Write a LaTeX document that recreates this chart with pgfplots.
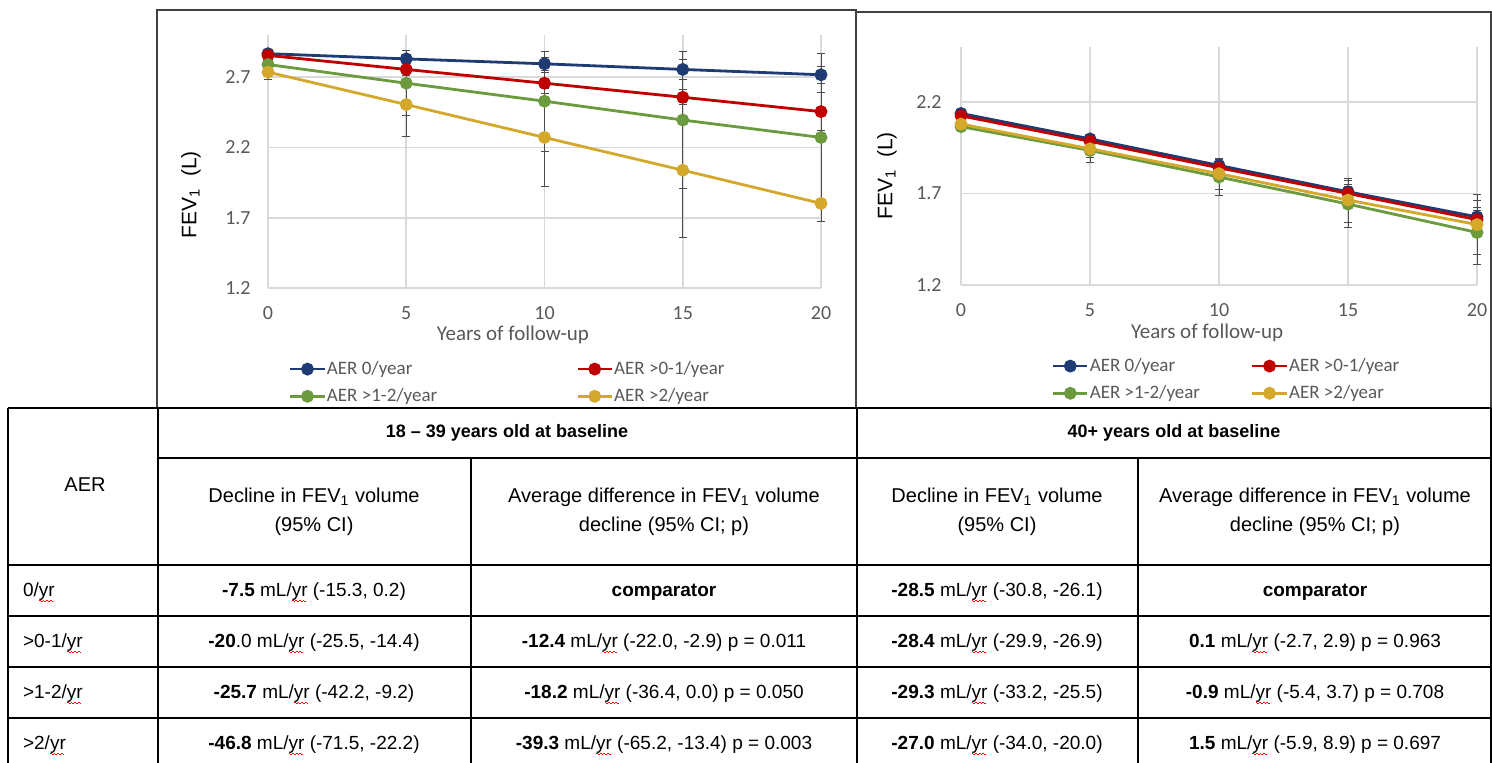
\documentclass[border=0pt]{standalone}
\usepackage{fontspec}
\setmainfont{Liberation Sans}
\newfontfamily\calfont{Carlito}
\usepackage{pgfplots}
\pgfplotsset{compat=1.18}
\definecolor{cBlue}{HTML}{1F3B73}
\definecolor{cRed}{HTML}{C00000}
\definecolor{cGreen}{HTML}{6B9A3F}
\definecolor{cGold}{HTML}{D4A82A}
\definecolor{gridg}{HTML}{D9D9D9}
\definecolor{tickg}{HTML}{595959}
\definecolor{boxg}{HTML}{404040}
\newcommand{\fs}[2]{\fontsize{#1}{#2}\selectfont}
\newcommand{\sqp}{\raisebox{-2.3pt}{\rule{0.9pt}{0.45pt}}\raisebox{-2.8pt}{\rule{0.9pt}{0.45pt}}}
\newcommand{\yr}{\makebox[0pt][l]{\textcolor{red}{\sqp\sqp\sqp\sqp}}yr}
\pgfplotsset{
  fev/.style={
    scale only axis, clip=false,
    xmin=0, xmax=20, xtick={0,5,10,15,20},
    axis x line*=bottom, axis y line*=left,
    axis line style={gridg, line width=0.8pt},
    grid=major, major grid style={gridg, line width=0.8pt},
    major tick length=0pt,
    /pgf/number format/assume math mode=true,
    ticklabel style={font=\calfont\fs{10}{12}, text=tickg, inner sep=0pt},
    xticklabel style={anchor=center, yshift=-12.5pt},
    yticklabel style={anchor=east, xshift=-8.5pt},
    yticklabel style={/pgf/number format/fixed, /pgf/number format/fixed zerofill, /pgf/number format/precision=1},
    xlabel={Years of follow-up},
    xlabel style={font=\calfont\fs{10.5}{12}, text=tickg, anchor=center},
    ylabel={FEV\textsubscript{1}\ \ (L)},
    ylabel style={font=\fs{10.5}{12}, anchor=center},
    legend columns=2, legend cell align=left,
    legend style={draw=none, fill=none, inner sep=0pt, outer sep=0pt, anchor=north west,
      font=\calfont\fs{9.5}{11}, text=tickg, row sep=4.5pt, nodes={inner sep=0.5pt}},
    every axis plot/.append style={line width=1.4pt, mark=*, mark size=2.5pt},
    error bars/y dir=both, error bars/y explicit,
    error bars/error bar style={black!70, line width=0.5pt, solid},
    error bars/error mark options={rotate=90, mark size=2pt, black!70, line width=0.5pt},
  }
}
\begin{document}
\begin{tikzpicture}
\useasboundingbox (0,0) rectangle (746pt,-381.5pt);
\fill[white] (0,0) rectangle (746pt,-381.5pt);
% ---------------- left chart ----------------
\begin{axis}[fev, at={(134pt,-144pt)}, anchor=south west,
  width=276.5pt, height=126.5pt, ymin=1.2, ymax=3.0, ytick={1.2,1.7,2.2,2.7},
  xlabel style={at={(axis description cs:0.443,-0.1858)}},
  ylabel style={at={(axis description cs:-0.1392,0.368)}},
  legend style={at={(axis description cs:0.038,-0.2846)},
    /tikz/every even column/.append style={column sep=69pt}}]
\addplot[color=cBlue] coordinates {(0,2.867) +- (0,0.01) (5,2.830) +- (0,0.03) (10,2.795) +- (0,0.045) (15,2.755) +- (0,0.07) (20,2.717) +- (0,0.06)};
\addplot[color=cRed] coordinates {(0,2.855) +- (0,0.02) (5,2.755) +- (0,0.04) (10,2.657) +- (0,0.075) (15,2.557) +- (0,0.053) (20,2.455) +- (0,0.135)};
\addplot[color=cGreen] coordinates {(0,2.790) +- (0,0.03) (5,2.657) +- (0,0.23) (10,2.529) +- (0,0.355) (15,2.395) +- (0,0.49) (20,2.271) +- (0,0.6)};
\addplot[color=cGold] coordinates {(0,2.736) +- (0,0.05) (5,2.505) +- (0,0.23) (10,2.271) +- (0,0.35) (15,2.038) +- (0,0.48) (20,1.802) += (0,0.68) -= (0,0.13)};
\legend{AER 0/year, AER >0-1/year, AER >1-2/year, AER >2/year}
\end{axis}
% ---------------- right chart ----------------
\begin{axis}[fev, at={(480.5pt,-142.5pt)}, anchor=south west,
  width=258pt, height=119pt, ymin=1.2, ymax=2.5, ytick={1.2,1.7,2.2},
  yticklabel style={xshift=-1pt},
  xlabel style={at={(axis description cs:0.477,-0.2017)}},
  ylabel style={at={(axis description cs:-0.1434,0.458)}},
  legend style={at={(axis description cs:0.176,-0.3025)},
    /tikz/every even column/.append style={column sep=25pt}}]
\addplot[color=cBlue] coordinates {(0,2.137) +- (0,0.01) (5,1.998) +- (0,0.02) (10,1.853) +- (0,0.03) (15,1.709) +- (0,0.04) (20,1.572) +- (0,0.05)};
\addplot[color=cRed] coordinates {(0,2.124) +- (0,0.01) (5,1.985) +- (0,0.02) (10,1.840) +- (0,0.03) (15,1.700) +- (0,0.04) (20,1.557) +- (0,0.05)};
\addplot[color=cGreen] coordinates {(0,2.065) +- (0,0.02) (5,1.935) +- (0,0.065) (10,1.790) +- (0,0.1) (15,1.642) +- (0,0.13) (20,1.487) +- (0,0.175)};
\addplot[color=cGold] coordinates {(0,2.079) +- (0,0.02) (5,1.944) +- (0,0.05) (10,1.808) +- (0,0.085) (15,1.664) +- (0,0.12) (20,1.530) +- (0,0.165)};
\legend{AER 0/year, AER >0-1/year, AER >1-2/year, AER >2/year}
\end{axis}
% ---------------- boxes and table ----------------
\begin{scope}[x=0.5pt,y=-0.5pt]
\draw[boxg, line width=0.75pt] (157,10) rectangle (856,408);
\draw[boxg, line width=0.75pt] (856,12) rectangle (1491,408);
\begin{scope}[line width=0.75pt, black]
\draw (8,408) -- (1491,408);
\draw (158,458) -- (1491,458);
\foreach \yy in {565,616,667,718} \draw (8,\yy) -- (1491,\yy);
\draw (8,408) -- (8,763);
\draw (158,408) -- (158,763);
\draw (471,458) -- (471,763);
\draw (857,408) -- (857,763);
\draw (1138,458) -- (1138,763);
\draw (1491,408) -- (1491,763);
\end{scope}
\node[font=\bfseries\fs{9}{11}] at (507,433) {18 – 39 years old at baseline};
\node[font=\bfseries\fs{9}{11}] at (1174,433) {40+ years old at baseline};
\node[font=\fs{10}{12}] at (85,485) {AER};
\node[font=\fs{10}{14.5}, align=center] at (314,512) {Decline in FEV\textsubscript{1} volume\\(95\% CI)};
\node[font=\fs{10}{14.5}, align=center] at (664,512) {Average difference in FEV\textsubscript{1} volume\\decline (95\% CI; p)};
\node[font=\fs{10}{14.5}, align=center] at (997,512) {Decline in FEV\textsubscript{1} volume\\(95\% CI)};
\node[font=\fs{10}{14.5}, align=center] at (1315,512) {Average difference in FEV\textsubscript{1} volume\\decline (95\% CI; p)};
\begin{scope}[every node/.style={font=\fs{9.5}{11}}]
\node[anchor=west] at (16,592) {0/\yr};
\node[anchor=west] at (16,643) {>0-1/\yr};
\node[anchor=west] at (16,694) {>1-2/\yr};
\node[anchor=west] at (16,745) {>2/\yr};
\node at (314,592) {\textbf{-7.5} mL/\yr{} (-15.3, 0.2)};
\node at (314,643) {\textbf{-20}.0 mL/\yr{} (-25.5, -14.4)};
\node at (314,694) {\textbf{-25.7} mL/\yr{} (-42.2, -9.2)};
\node at (314,745) {\textbf{-46.8} mL/\yr{} (-71.5, -22.2)};
\node at (664,592) {\textbf{comparator}};
\node at (664,643) {\textbf{-12.4} mL/\yr{} (-22.0, -2.9) p = 0.011};
\node at (664,694) {\textbf{-18.2} mL/\yr{} (-36.4, 0.0) p = 0.050};
\node at (664,745) {\textbf{-39.3} mL/\yr{} (-65.2, -13.4) p = 0.003};
\node at (997,592) {\textbf{-28.5} mL/\yr{} (-30.8, -26.1)};
\node at (997,643) {\textbf{-28.4} mL/\yr{} (-29.9, -26.9)};
\node at (997,694) {\textbf{-29.3} mL/\yr{} (-33.2, -25.5)};
\node at (997,745) {\textbf{-27.0} mL/\yr{} (-34.0, -20.0)};
\node at (1315,592) {\textbf{comparator}};
\node at (1315,643) {\textbf{0.1} mL/\yr{} (-2.7, 2.9) p = 0.963};
\node at (1315,694) {\textbf{-0.9} mL/\yr{} (-5.4, 3.7) p = 0.708};
\node at (1315,745) {\textbf{1.5} mL/\yr{} (-5.9, 8.9) p = 0.697};
\end{scope}
\end{scope}
\end{tikzpicture}
\end{document}
